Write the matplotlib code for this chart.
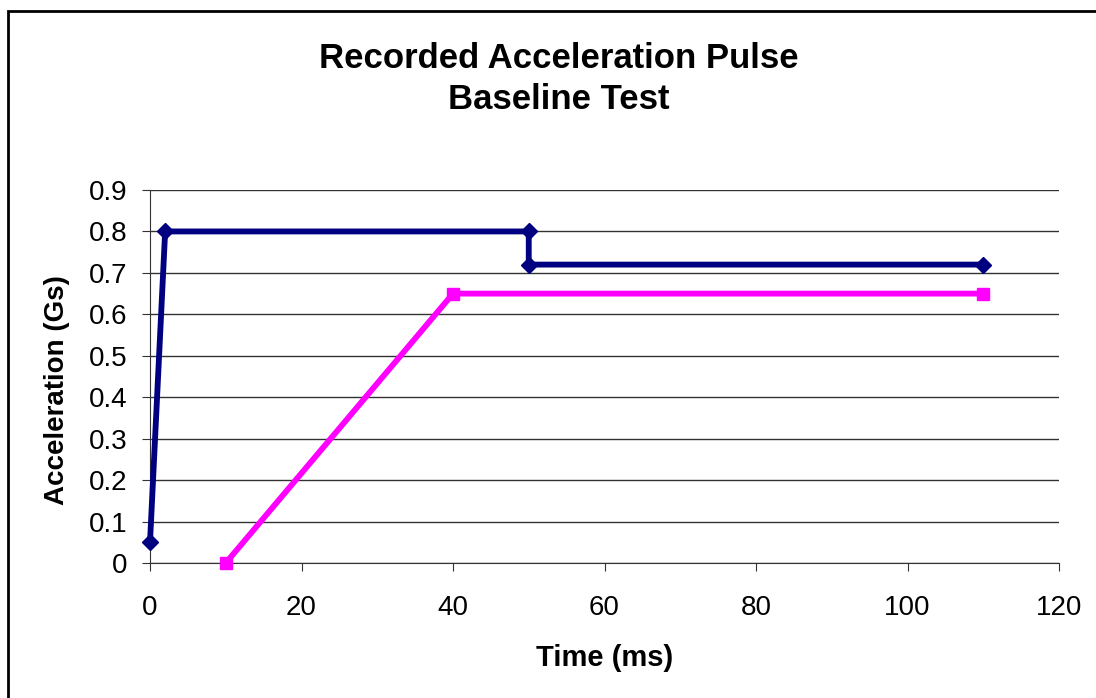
import matplotlib.pyplot as plt
from matplotlib.patches import Rectangle

# data
time_a = [0, 2, 50, 50, 110]
accel_a = [0.05, 0.8, 0.8, 0.72, 0.72]
time_b = [10, 40, 110]
accel_b = [0, 0.65, 0.65]

x_ticks = [0, 20, 40, 60, 80, 100, 120]
y_ticks = [0, 0.1, 0.2, 0.3, 0.4, 0.5, 0.6, 0.7, 0.8, 0.9]
y_labels = ["0", "0.1", "0.2", "0.3", "0.4", "0.5", "0.6", "0.7", "0.8", "0.9"]

plt.rcParams['font.family'] = ['Liberation Sans', 'DejaVu Sans']

fig = plt.figure(figsize=(10.96, 6.98), dpi=100)
ax = fig.add_axes([150/1096, 1 - 563/698, (1059-150)/1096, (563-190)/698])

# outer chart frame, runs off right and bottom edges
fig.patches.append(Rectangle((8/1096, -0.05), 1.2, 1 - 11/698 + 0.05,
                             transform=fig.transFigure, fill=False,
                             edgecolor='black', linewidth=2))

ax.plot(time_a, accel_a, color='#000080', linewidth=4.2, marker='D',
        markersize=8, solid_joinstyle='miter', clip_on=False, zorder=3)
ax.plot(time_b, accel_b, color='#FF00FF', linewidth=4.2, marker='s',
        markersize=9, solid_joinstyle='miter', clip_on=False, zorder=3)

ax.set_xlim(0, 120)
ax.set_ylim(0, 0.9)
ax.set_xticks(x_ticks)
ax.set_yticks(y_ticks)
ax.set_yticklabels(y_labels)
ax.tick_params(labelsize=20, length=6, color='#333333')
ax.tick_params(axis='x', pad=17)
ax.tick_params(axis='y', pad=10)
ax.yaxis.grid(True, color='#333333', linewidth=1)
ax.set_axisbelow(True)
for s in ['top', 'right']:
    ax.spines[s].set_visible(False)
for s in ['left', 'bottom']:
    ax.spines[s].set_color('#333333')

fig.text(605/1096, 1 - 658/698, "Time (ms)", ha='center', va='center',
         fontsize=21, fontweight='bold')
fig.text(57/1096, 1 - 390/698, "Acceleration (Gs)", ha='center', va='center',
         rotation=90, fontsize=20, fontweight='bold')
fig.text(559/1096, 1 - 79/698, "Recorded Acceleration Pulse\nBaseline Test",
         ha='center', va='center', fontsize=25, fontweight='bold', linespacing=1.3)

fig.savefig("out.png", dpi=100)
